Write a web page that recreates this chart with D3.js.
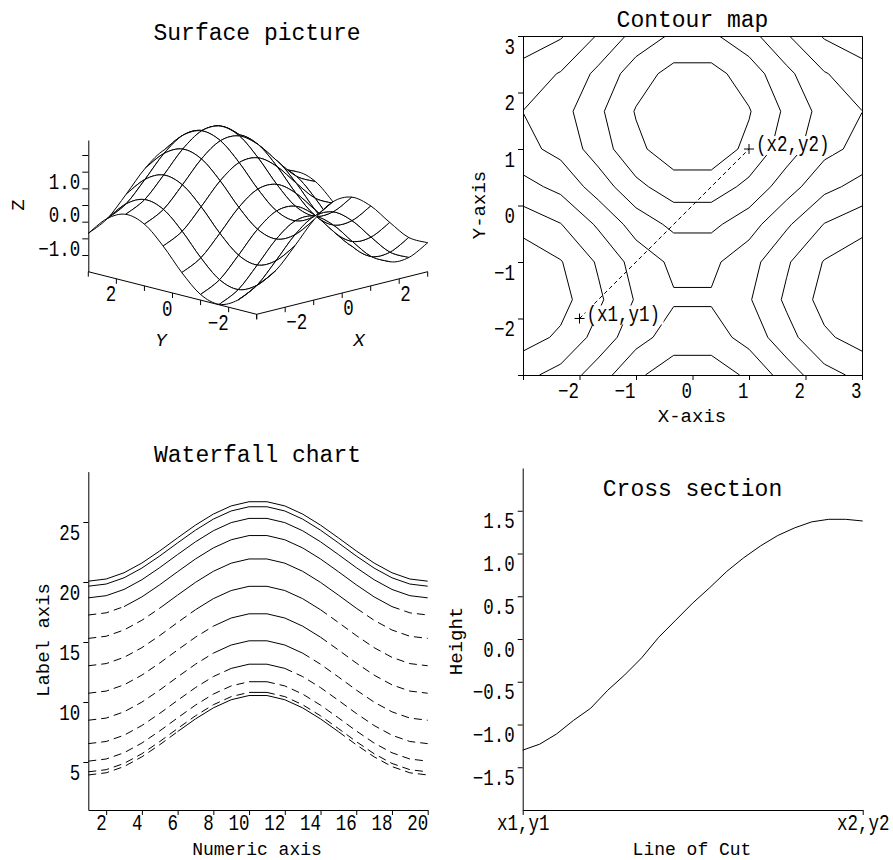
<!DOCTYPE html>
<html>
<head>
<meta charset="utf-8">
<script src="https://cdn.jsdelivr.net/npm/d3@7"></script>
<style>
  body { margin: 0; background: #fff; }
  svg text { font-family: "Liberation Mono", "DejaVu Sans Mono", monospace; fill: #000; }
</style>
</head>
<body>
<svg id="chart" width="893" height="860"></svg>
<script>
// ---------- data ----------
// surface / contour grid (10 x 10 nodes on -3..3)
const gridX = [-3, -2.333, -1.667, -1, -0.333, 0.333, 1, 1.667, 2.333, 3];
const gridY = [-3, -2.333, -1.667, -1, -0.333, 0.333, 1, 1.667, 2.333, 3];
// zGrid[j][i] : height at (gridX[i], gridY[j])
const zGrid = [
  [-1.131, -0.831, -0.237, 0.399, 0.804, 0.804, 0.399, -0.237, -0.831, -1.131],
  [-1.713, -1.413, -0.819, -0.183, 0.222, 0.222, -0.183, -0.819, -1.413, -1.713],
  [-1.985, -1.685, -1.091, -0.455, -0.050, -0.050, -0.455, -1.091, -1.685, -1.985],
  [-1.831, -1.531, -0.937, -0.301, 0.104, 0.104, -0.301, -0.937, -1.531, -1.831],
  [-1.317, -1.017, -0.423, 0.213, 0.618, 0.618, 0.213, -0.423, -1.017, -1.317],
  [-0.663, -0.363, 0.231, 0.867, 1.272, 1.272, 0.867, 0.231, -0.363, -0.663],
  [-0.149, 0.151, 0.745, 1.381, 1.786, 1.786, 1.381, 0.745, 0.151, -0.149],
  [0.005, 0.305, 0.899, 1.535, 1.940, 1.940, 1.535, 0.899, 0.305, 0.005],
  [-0.267, 0.033, 0.627, 1.263, 1.668, 1.668, 1.263, 0.627, 0.033, -0.267],
  [-0.849, -0.549, 0.045, 0.681, 1.086, 1.086, 0.681, 0.045, -0.549, -0.849]
];
const contourLevels = [-1.5, -1, -0.5, 0, 0.5, 1, 1.5];
const cutStart = [-2, -2];
const cutEnd = [1, 1];

// waterfall
const wfX = [1, 2, 3, 4, 5, 6, 7, 8, 9, 10, 11, 12, 13, 14, 15, 16, 17, 18, 19, 20];
const wfSeries = [
  [20.07, 20.25, 20.77, 21.58, 22.59, 23.68, 24.74, 25.66, 26.34, 26.69, 26.69, 26.34, 25.66, 24.74, 23.68, 22.59, 21.58, 20.77, 20.25, 20.07],
  [19.65, 19.83, 20.35, 21.16, 22.17, 23.26, 24.32, 25.24, 25.92, 26.27, 26.27, 25.92, 25.24, 24.32, 23.26, 22.17, 21.16, 20.35, 19.83, 19.65],
  [18.68, 18.86, 19.38, 20.19, 21.20, 22.29, 23.35, 24.27, 24.95, 25.30, 25.30, 24.95, 24.27, 23.35, 22.29, 21.20, 20.19, 19.38, 18.86, 18.68],
  [17.25, 17.43, 17.95, 18.76, 19.77, 20.86, 21.92, 22.84, 23.52, 23.87, 23.87, 23.52, 22.84, 21.92, 20.86, 19.77, 18.76, 17.95, 17.43, 17.25],
  [15.30, 15.48, 16.00, 16.81, 17.82, 18.91, 19.97, 20.89, 21.57, 21.92, 21.92, 21.57, 20.89, 19.97, 18.91, 17.82, 16.81, 16.00, 15.48, 15.30],
  [13.02, 13.20, 13.72, 14.53, 15.54, 16.63, 17.69, 18.61, 19.29, 19.64, 19.64, 19.29, 18.61, 17.69, 16.63, 15.54, 14.53, 13.72, 13.20, 13.02],
  [10.73, 10.91, 11.43, 12.24, 13.25, 14.34, 15.40, 16.32, 17.00, 17.35, 17.35, 17.00, 16.32, 15.40, 14.34, 13.25, 12.24, 11.43, 10.91, 10.73],
  [8.48, 8.66, 9.18, 9.99, 11.00, 12.09, 13.15, 14.07, 14.75, 15.10, 15.10, 14.75, 14.07, 13.15, 12.09, 11.00, 9.99, 9.18, 8.66, 8.48],
  [6.53, 6.71, 7.23, 8.04, 9.05, 10.14, 11.20, 12.12, 12.80, 13.15, 13.15, 12.80, 12.12, 11.20, 10.14, 9.05, 8.04, 7.23, 6.71, 6.53],
  [5.07, 5.25, 5.77, 6.58, 7.59, 8.68, 9.74, 10.66, 11.34, 11.69, 11.69, 11.34, 10.66, 9.74, 8.68, 7.59, 6.58, 5.77, 5.25, 5.07],
  [4.18, 4.36, 4.88, 5.69, 6.70, 7.79, 8.85, 9.77, 10.45, 10.80, 10.80, 10.45, 9.77, 8.85, 7.79, 6.70, 5.69, 4.88, 4.36, 4.18],
  [3.92, 4.10, 4.62, 5.43, 6.44, 7.53, 8.59, 9.51, 10.19, 10.54, 10.54, 10.19, 9.51, 8.59, 7.53, 6.44, 5.43, 4.62, 4.10, 3.92]
];
// x range drawn solid for each series (dashed outside)
const wfSolidFrom = [1, 1, 1, 3, 5, 7, 8, 8, 9, 10, 10, 6];
const wfSolidTo = [20, 20, 20, 18, 16, 14, 14, 13, 12, 11, 11, 15];
const wfYTicks = [5, 10, 15, 20, 25];
const wfXTicks = [2, 4, 6, 8, 10, 12, 14, 16, 18, 20];

// cross section along the cut, position 0 = (x1,y1), 1 = (x2,y2)
const cutPos = [0, 0.05, 0.1, 0.15, 0.2, 0.25, 0.3, 0.35, 0.4, 0.45, 0.5, 0.55, 0.6, 0.65, 0.7, 0.75, 0.8, 0.85, 0.9, 0.95, 1];
const cutHeight = [-1.30, -1.23, -1.11, -0.95, -0.81, -0.60, -0.42, -0.22, 0.02, 0.22, 0.42, 0.60, 0.79, 0.95, 1.09, 1.21, 1.30, 1.37, 1.40, 1.40, 1.38];
const cutYTicks = [-1.5, -1, -0.5, 0, 0.5, 1, 1.5];

// ---------- helpers ----------
const svg = d3.select("#chart");
const tickFont = 17.5, tickStretch = 1.25;

function styleAxis(g, anchor, x, base) {
  g.attr("font-family", null).attr("font-size", null);
  g.select(".domain").attr("stroke", "#000");
  g.selectAll(".tick line").attr("stroke", "#000");
  g.selectAll(".tick text")
    .attr("font-size", tickFont)
    .attr("text-anchor", anchor)
    .attr("x", x)
    .attr("dy", null)
    .attr("y", base / tickStretch)
    .attr("transform", `scale(1,${tickStretch})`);
}

function title(x, y, txt) {
  svg.append("text").attr("x", x).attr("y", y).attr("text-anchor", "middle")
    .attr("font-size", 23).text(txt);
}

function axisTitle(x, y, txt, rotate) {
  const t = svg.append("text").attr("text-anchor", "middle").attr("font-size", 19).text(txt);
  if (rotate) t.attr("transform", `translate(${x},${y}) rotate(-90)`);
  else t.attr("x", x).attr("y", y);
  return t;
}

// =======================
// SURFACE PICTURE
// =======================
const origin = [256.7, 314.3];                 // floor corner X=-3, Y=-3
const sxX = d3.scaleLinear().domain([-3, 3]).range([0, 171]);
const syX = d3.scaleLinear().domain([-3, 3]).range([0, -42.6]);
const sxY = d3.scaleLinear().domain([-3, 3]).range([0, -168.4]);
const syY = d3.scaleLinear().domain([-3, 3]).range([0, -42.6]);
const zScale = d3.scaleLinear().domain([-2, 1.95]).range([271.7, 140]);
const project = (X, Y, Z) => [
  origin[0] + sxX(X) + sxY(Y),
  origin[1] + syX(X) + syY(Y) + zScale(Z) - zScale(-2)
];

title(257, 40, "Surface picture");

const surf = svg.append("g");
const floorLine = d3.line();
// Y axis on the floor (X = -3)
surf.append("path").attr("d", floorLine([project(-3, 3, -2), project(-3, -3, -2)]))
  .attr("stroke", "#000").attr("fill", "none");
// X axis on the floor (Y = -3)
surf.append("path").attr("d", floorLine([project(-3, -3, -2), project(3, -3, -2)]))
  .attr("stroke", "#000").attr("fill", "none");
const floorTicks = d3.range(-3, 4);
surf.selectAll(".ytick").data(floorTicks).join("line")
  .attr("x1", d => project(-3, d, -2)[0]).attr("x2", d => project(-3, d, -2)[0])
  .attr("y1", d => project(-3, d, -2)[1]).attr("y2", d => project(-3, d, -2)[1] + 5)
  .attr("stroke", "#000");
surf.selectAll(".xtick").data(floorTicks).join("line")
  .attr("x1", d => project(d, -3, -2)[0]).attr("x2", d => project(d, -3, -2)[0])
  .attr("y1", d => project(d, -3, -2)[1]).attr("y2", d => project(d, -3, -2)[1] + 5)
  .attr("stroke", "#000");
surf.selectAll(".ylab").data([2, 0, -2]).join("text")
  .attr("text-anchor", "end").attr("font-size", tickFont)
  .attr("transform", d => { const p = project(-3, d, -2); return `translate(${p[0]},${p[1] + 22.5}) scale(1,${tickStretch})`; })
  .text(d => d < 0 ? "\u2212" + (-d) : d);
surf.selectAll(".xlab").data([-2, 0, 2]).join("text")
  .attr("text-anchor", "start").attr("font-size", tickFont)
  .attr("transform", d => { const p = project(d, -3, -2); return `translate(${p[0] + 1},${p[1] + 22}) scale(1,${tickStretch})`; })
  .text(d => d < 0 ? "\u2212" + (-d) : d);

// Z axis at the back-left corner (X=-3, Y=3)
const zAxisX = project(-3, 3, -2)[0];
const zAxisG = surf.append("g").attr("transform", `translate(${zAxisX},0)`)
  .call(d3.axisLeft(zScale).tickValues([-1.5, -1, -0.5, 0, 0.5, 1, 1.5]).tickSize(6).tickSizeOuter(0)
    .tickFormat(d => [-1, 0, 1].includes(d) ? d3.format(".1f")(d).replace("-", "\u2212") : ""));
styleAxis(zAxisG, "end", -8, 16.7);

axisTitle(24, 205, "Z", true);
axisTitle(161, 346, "Y").attr("font-style", "italic");
axisTitle(359, 346, "X").attr("font-style", "italic");

// wireframe, painted back to front
const nx = gridX.length, ny = gridY.length;
const P = zGrid.map((row, j) => row.map((z, i) => project(gridX[i], gridY[j], z)));
const fmt = p => `${p[0].toFixed(2)},${p[1].toFixed(2)}`;
function cubic(a0, a, b, b1) {
  const c1 = [a[0] + (b[0] - a0[0]) / 6, a[1] + (b[1] - a0[1]) / 6];
  const c2 = [b[0] - (b1[0] - a[0]) / 6, b[1] - (b1[1] - a[1]) / 6];
  return `C${fmt(c1)} ${fmt(c2)} ${fmt(b)}`;
}
const clampI = i => Math.max(0, Math.min(nx - 1, i));
const clampJ = j => Math.max(0, Math.min(ny - 1, j));
// along X at row j, from column i to column k (k = i +/- 1)
const edgeX = (j, i, k) => cubic(P[j][clampI(i - (k - i))], P[j][i], P[j][k], P[j][clampI(k + (k - i))]);
// along Y at column i, from row j to row k
const edgeY = (i, j, k) => cubic(P[clampJ(j - (k - j))][i], P[j][i], P[k][i], P[clampJ(k + (k - j))][i]);

const cells = [];
for (let j = 0; j < ny - 1; j++) {
  for (let i = 0; i < nx - 1; i++) {
    cells.push({
      depth: gridX[i] + gridX[i + 1] + gridY[j] + gridY[j + 1],
      d: `M${fmt(P[j][i])}` + edgeX(j, i, i + 1) + edgeY(i + 1, j, j + 1) +
         edgeX(j + 1, i + 1, i) + edgeY(i, j + 1, j) + "Z"
    });
  }
}
cells.sort((a, b) => b.depth - a.depth);
surf.append("g").selectAll("path").data(cells).join("path")
  .attr("d", d => d.d)
  .attr("fill", "#fff")
  .attr("stroke", "#000")
  .attr("stroke-width", 1)
  .attr("stroke-linejoin", "round");

// =======================
// CONTOUR MAP
// =======================
const cx = d3.scaleLinear().domain([-3, 3]).range([523, 862]);
const cy = d3.scaleLinear().domain([-3, 3]).range([375, 36]);

title(692.5, 27, "Contour map");

svg.append("clipPath").attr("id", "cclip").append("rect")
  .attr("x", cx(-3)).attr("y", cy(3)).attr("width", cx(3) - cx(-3)).attr("height", cy(-3) - cy(3));

// marching squares on the grid, linear interpolation along cell edges
function contourSegments(level) {
  const segs = [];
  for (let j = 0; j < ny - 1; j++) {
    for (let i = 0; i < nx - 1; i++) {
      const v = [zGrid[j][i], zGrid[j][i + 1], zGrid[j + 1][i + 1], zGrid[j + 1][i]];
      const p = [[gridX[i], gridY[j]], [gridX[i + 1], gridY[j]], [gridX[i + 1], gridY[j + 1]], [gridX[i], gridY[j + 1]]];
      const pts = [];
      for (let e = 0; e < 4; e++) {
        const a = v[e], b = v[(e + 1) % 4];
        if ((a < level) !== (b < level)) {
          const t = (level - a) / (b - a);
          const A = p[e], B = p[(e + 1) % 4];
          pts.push([A[0] + t * (B[0] - A[0]), A[1] + t * (B[1] - A[1])]);
        }
      }
      if (pts.length === 2) segs.push(pts);
      else if (pts.length === 4) {
        const c = (v[0] + v[1] + v[2] + v[3]) / 4;
        if ((c < level) === (v[0] < level)) { segs.push([pts[0], pts[1]]); segs.push([pts[2], pts[3]]); }
        else { segs.push([pts[3], pts[0]]); segs.push([pts[1], pts[2]]); }
      }
    }
  }
  return segs;
}

const contourG = svg.append("g").attr("clip-path", "url(#cclip)");
contourG.selectAll("path").data(contourLevels).join("path")
  .attr("d", lvl => contourSegments(lvl).map(s =>
    `M${cx(s[0][0]).toFixed(2)},${cy(s[0][1]).toFixed(2)}L${cx(s[1][0]).toFixed(2)},${cy(s[1][1]).toFixed(2)}`).join(""))
  .attr("fill", "none").attr("stroke", "#000").attr("stroke-width", 1);

// frame
const cLeft = svg.append("g").attr("transform", `translate(${cx(-3)},0)`)
  .call(d3.axisLeft(cy).tickValues(d3.range(-3, 4)).tickSize(5).tickSizeOuter(0)
    .tickFormat(d => d === -3 ? "" : String(d).replace("-", "\u2212")));
styleAxis(cLeft, "end", -8, 17);
const cBottom = svg.append("g").attr("transform", `translate(0,${cy(-3)})`)
  .call(d3.axisBottom(cx).tickValues(d3.range(-3, 4)).tickSize(5).tickSizeOuter(0)
    .tickFormat(d => d === -3 ? "" : String(d).replace("-", "\u2212")));
styleAxis(cBottom, "end", -1, 23);
svg.append("path")
  .attr("d", `M${cx(-3)},${cy(3) + 0.5}H${cx(3) + 0.5}V${cy(-3)}`)
  .attr("fill", "none").attr("stroke", "#000");

axisTitle(692, 422, "X-axis");
axisTitle(485, 205, "Y-axis", true);

// line of cut
svg.append("line")
  .attr("x1", cx(cutStart[0])).attr("y1", cy(cutStart[1]))
  .attr("x2", cx(cutEnd[0])).attr("y2", cy(cutEnd[1]))
  .attr("stroke", "#000").attr("stroke-dasharray", "4,3");
const cutMarks = [{ p: cutStart, label: "(x1,y1)" }, { p: cutEnd, label: "(x2,y2)" }];
const markG = svg.append("g").selectAll("g").data(cutMarks).join("g")
  .attr("transform", d => `translate(${cx(d.p[0])},${cy(d.p[1])})`);
markG.append("rect").attr("x", 6).attr("y", -13).attr("width", 78).attr("height", 19).attr("fill", "#fff");
markG.append("path").attr("d", "M-5,0H5M0,-5V5").attr("stroke", "#000");
markG.append("text").attr("x", 7).attr("y", 0).attr("font-size", tickFont)
  .attr("transform", `scale(1,${tickStretch})`).attr("y", 2 / tickStretch).text(d => d.label);

// =======================
// WATERFALL CHART
// =======================
const wx = d3.scaleLinear().domain([1, 20]).range([88.3, 427.7]);
const wy = d3.scaleLinear().domain([1, 29.2]).range([810, 471.6]);

title(257.5, 462, "Waterfall chart");

const wLeft = svg.append("g").attr("transform", `translate(${wx(1)},0)`)
  .call(d3.axisLeft(wy).tickValues(wfYTicks).tickSize(5).tickSizeOuter(0));
styleAxis(wLeft, "end", -8, 17);
const wBottom = svg.append("g").attr("transform", `translate(0,${wy(1)})`)
  .call(d3.axisBottom(wx).tickValues(wfXTicks).tickSize(5).tickSizeOuter(0));
styleAxis(wBottom, "end", 0, 20.5);

axisTitle(257, 854.5, "Numeric axis").attr("font-size", 18);
axisTitle(49, 640, "Label axis", true);

const wLine = d3.line().x(d => wx(d[0])).y(d => wy(d[1]));
const wRuns = [];
wfSeries.forEach((vals, s) => {
  let run = null;
  for (let k = 0; k < wfX.length - 1; k++) {
    const solid = wfX[k] >= wfSolidFrom[s] && wfX[k + 1] <= wfSolidTo[s];
    if (!run || run.solid !== solid) {
      run = { solid, pts: [[wfX[k], vals[k]]] };
      wRuns.push(run);
    }
    run.pts.push([wfX[k + 1], vals[k + 1]]);
  }
});
svg.append("g").selectAll("path").data(wRuns).join("path")
  .attr("d", d => wLine(d.pts))
  .attr("fill", "none").attr("stroke", "#000").attr("stroke-width", 1)
  .attr("stroke-dasharray", d => d.solid ? null : "8,5");

// =======================
// CROSS SECTION
// =======================
const kx = d3.scaleLinear().domain([0, 1]).range([522.7, 862.7]);
const ky = d3.scaleLinear().domain([-2, 2]).range([810, 468]);

title(692.5, 496, "Cross section");

const kLeft = svg.append("g").attr("transform", `translate(${kx(0)},0)`)
  .call(d3.axisLeft(ky).tickValues(cutYTicks).tickSize(5).tickSizeOuter(0)
    .tickFormat(d => d3.format(".1f")(d).replace("-", "\u2212")));
styleAxis(kLeft, "end", -8, 17);
const kBottom = svg.append("g").attr("transform", `translate(0,${ky(-2)})`)
  .call(d3.axisBottom(kx).tickValues([0, 1]).tickSize(5).tickSizeOuter(0)
    .tickFormat(d => d === 0 ? "x1,y1" : "x2,y2"));
styleAxis(kBottom, "middle", 0, 20.5);

axisTitle(692, 854.5, "Line of Cut").attr("font-size", 18);
axisTitle(462, 641, "Height", true);

svg.append("path")
  .datum(cutPos.map((t, i) => [t, cutHeight[i]]))
  .attr("d", d3.line().x(d => kx(d[0])).y(d => ky(d[1])))
  .attr("fill", "none").attr("stroke", "#000").attr("stroke-width", 1);
</script>
</body>
</html>
